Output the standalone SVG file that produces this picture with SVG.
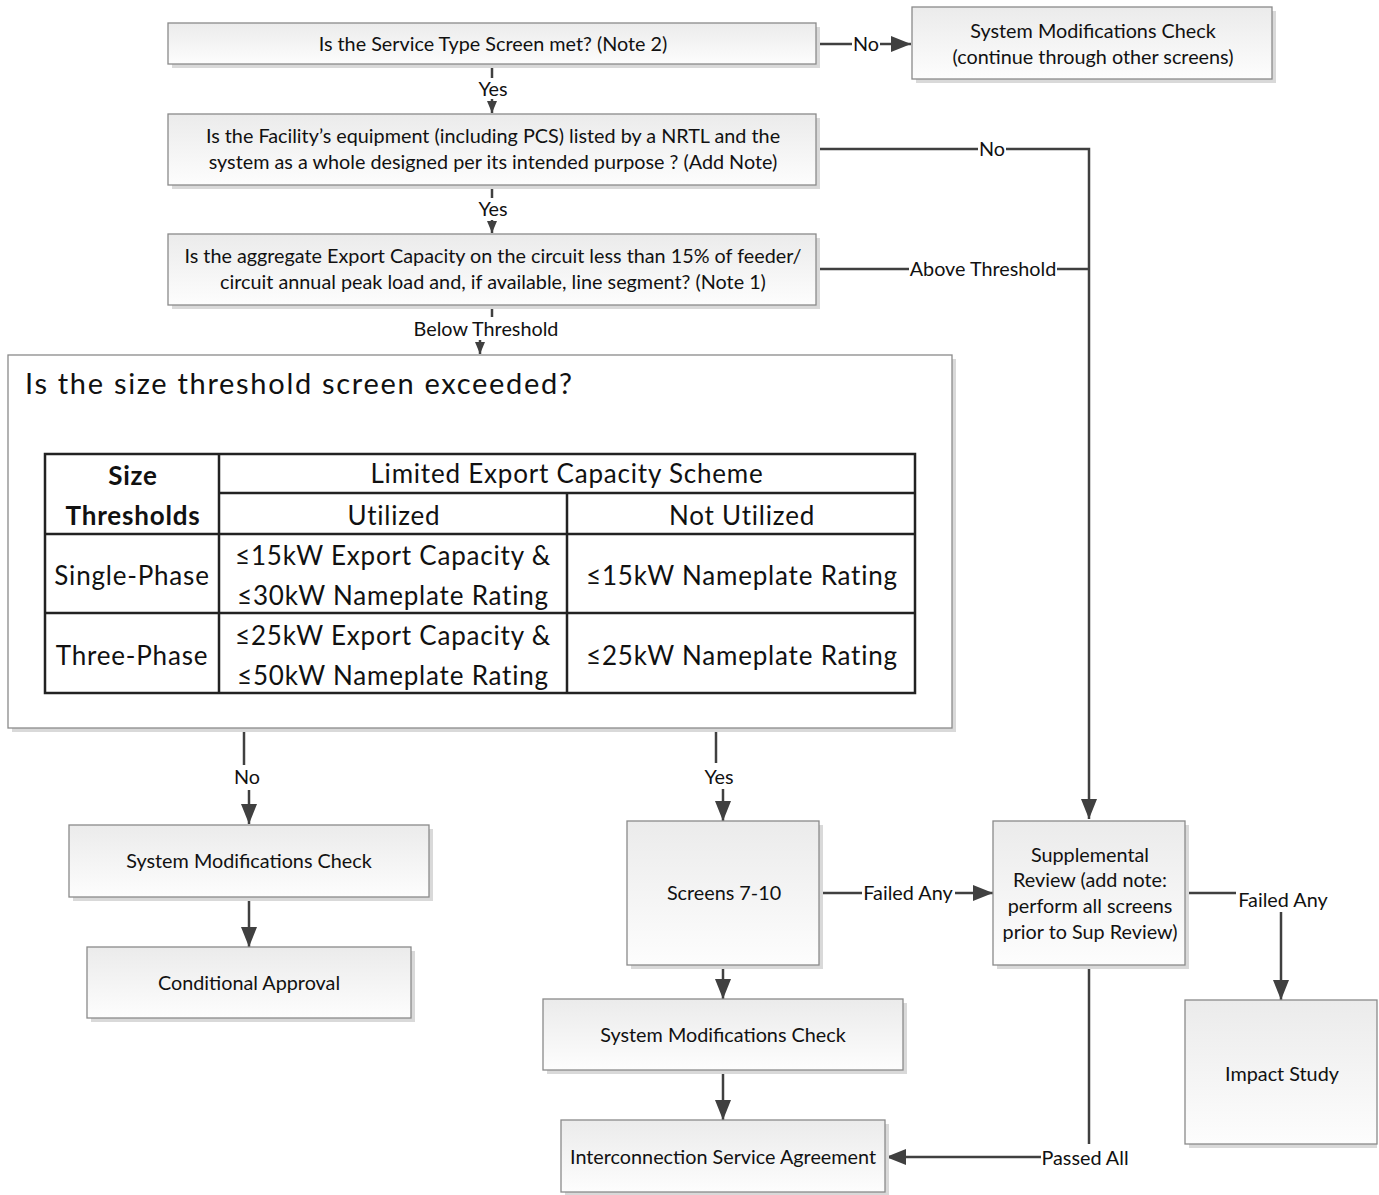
<svg xmlns="http://www.w3.org/2000/svg" width="1379" height="1195" viewBox="0 0 1379 1195">
<defs>
<linearGradient id="g" x1="0" y1="0" x2="0" y2="1"><stop offset="0" stop-color="#ebebeb"/><stop offset="1" stop-color="#fdfdfd"/></linearGradient>
<marker id="ab" markerUnits="userSpaceOnUse" viewBox="0 0 20 16" refX="20" refY="8" markerWidth="20" markerHeight="16" orient="auto"><path d="M0,0 L20,8 L0,16 z" fill="#404040"/></marker>
<marker id="as" markerUnits="userSpaceOnUse" viewBox="0 0 12 10" refX="12" refY="5" markerWidth="12" markerHeight="10" orient="auto"><path d="M0,0 L12,5 L0,10 z" fill="#404040"/></marker>
</defs>
<style>
.box{fill:url(#g);stroke:#8a8a8a;stroke-width:1.3}
.sh{fill:#d9d9d9}
.t{font-family:Lato,'Liberation Sans',sans-serif;font-size:19.8px;fill:#111;text-anchor:middle}
.l{font-family:Lato,'Liberation Sans',sans-serif;font-size:19.8px;fill:#111;text-anchor:middle}
.c{fill:none;stroke:#404040;stroke-width:2.5}
.tb{fill:none;stroke:#222;stroke-width:2.5}
.tt{font-family:Lato,'Liberation Sans',sans-serif;font-size:26px;letter-spacing:0.8px;fill:#111;text-anchor:middle}
.bold{font-weight:bold}
</style>
<rect width="1379" height="1195" fill="#fff"/>

<g id="connectors">
<path class="c" d="M492,64 V78"/><path class="c" d="M492,99 V113" marker-end="url(#as)"/>
<text class="l" x="493" y="96">Yes</text>
<path class="c" d="M816,44 H852"/><path class="c" d="M880,44 H911" marker-end="url(#ab)"/>
<text class="l" x="866" y="51">No</text>
<path class="c" d="M816,149 H978"/><path class="c" d="M1006,149 H1089 V819" marker-end="url(#ab)"/>
<text class="l" x="992" y="156">No</text>
<path class="c" d="M816,269 H909"/><path class="c" d="M1057,269 H1089"/>
<text class="l" x="983" y="276">Above Threshold</text>
<path class="c" d="M492,185 V198"/><path class="c" d="M492,220 V233" marker-end="url(#as)"/>
<text class="l" x="493" y="216">Yes</text>
<path class="c" d="M492,305 V317"/><path class="c" d="M480,340 V354" marker-end="url(#as)"/>
<text class="l" x="486" y="336">Below Threshold</text>
<path class="c" d="M244,728 V765"/><path class="c" d="M249,790 V824" marker-end="url(#ab)"/>
<text class="l" x="247" y="784">No</text>
<path class="c" d="M716,728 V763"/><path class="c" d="M723,789 V821" marker-end="url(#ab)"/>
<text class="l" x="719" y="784">Yes</text>
<path class="c" d="M249,897 V947" marker-end="url(#ab)"/>
<path class="c" d="M819,893 H862"/><path class="c" d="M955,893 H993" marker-end="url(#ab)"/>
<text class="l" x="908" y="900">Failed Any</text>
<path class="c" d="M1185,893 H1236"/><path class="c" d="M1281,912 V1000" marker-end="url(#ab)"/>
<text class="l" x="1283" y="907">Failed Any</text>
<path class="c" d="M723,965 V999" marker-end="url(#ab)"/>
<path class="c" d="M723,1070 V1120" marker-end="url(#ab)"/>
<path class="c" d="M1089,965 V1144"/><path class="c" d="M1041,1157 H886" marker-end="url(#ab)"/>
<text class="l" x="1085" y="1165">Passed All</text>
</g>

<g id="n-service">
<rect class="sh" x="172" y="27" width="648" height="41"/>
<rect class="box" x="168" y="23" width="648" height="41"/>
<text class="t" x="493" y="51">Is the Service Type Screen met? (Note 2)</text>
</g>
<g id="n-sysmod-top">
<rect class="sh" x="916" y="11" width="360" height="72"/>
<rect class="box" x="912" y="7" width="360" height="72"/>
<text class="t" x="1093" y="38">System Modifications Check</text>
<text class="t" x="1093" y="64">(continue through other screens)</text>
</g>
<g id="n-nrtl">
<rect class="sh" x="172" y="118" width="648" height="71"/>
<rect class="box" x="168" y="114" width="648" height="71"/>
<text class="t" x="493" y="143">Is the Facility’s equipment  (including PCS) listed by a NRTL and the</text>
<text class="t" x="493" y="169">system as a whole designed per its intended purpose ?  (Add Note)</text>
</g>
<g id="n-aggregate">
<rect class="sh" x="172" y="238" width="648" height="71"/>
<rect class="box" x="168" y="234" width="648" height="71"/>
<text class="t" x="493" y="263">Is the aggregate Export Capacity  on the circuit less than 15% of feeder/</text>
<text class="t" x="493" y="289">circuit annual peak load and, if available, line segment? (Note 1)</text>
</g>
<g id="n-size">
<rect class="sh" x="12" y="359" width="944" height="373"/>
<rect x="8" y="355" width="944" height="373" fill="#fff" stroke="#8a8a8a" stroke-width="1.3"/>
<text x="25" y="394" font-family="Lato,'Liberation Sans',sans-serif" font-size="29" fill="#111" letter-spacing="1.7">Is the size threshold screen exceeded?</text>
<rect class="tb" x="45" y="454" width="870" height="239"/>
<path class="tb" d="M219,454 V693 M567,493 V693 M219,493 H915 M45,534 H915 M45,613 H915"/>
<text class="tt bold" x="133" y="485">Size</text>
<text class="tt bold" x="133" y="525">Thresholds</text>
<text class="tt" x="567" y="483">Limited Export Capacity Scheme</text>
<text class="tt" x="394" y="525">Utilized</text>
<text class="tt" x="742" y="525">Not Utilized</text>
<text class="tt" x="132" y="585">Single-Phase</text>
<text class="tt" x="393" y="565">≤15kW Export Capacity &amp;</text>
<text class="tt" x="393" y="605">≤30kW Nameplate Rating</text>
<text class="tt" x="742" y="585">≤15kW Nameplate Rating</text>
<text class="tt" x="132" y="665">Three-Phase</text>
<text class="tt" x="393" y="645">≤25kW Export Capacity &amp;</text>
<text class="tt" x="393" y="685">≤50kW Nameplate Rating</text>
<text class="tt" x="742" y="665">≤25kW Nameplate Rating</text>
</g>
<g id="n-sysmod-left">
<rect class="sh" x="73" y="829" width="360" height="72"/>
<rect class="box" x="69" y="825" width="360" height="72"/>
<text class="t" x="249" y="868">System Modifications Check</text>
</g>
<g id="n-conditional">
<rect class="sh" x="91" y="951" width="324" height="71"/>
<rect class="box" x="87" y="947" width="324" height="71"/>
<text class="t" x="249" y="990">Conditional Approval</text>
</g>
<g id="n-screens">
<rect class="sh" x="631" y="825" width="192" height="144"/>
<rect class="box" x="627" y="821" width="192" height="144"/>
<text class="t" x="724" y="900">Screens 7-10</text>
</g>
<g id="n-supplemental">
<rect class="sh" x="997" y="825" width="192" height="144"/>
<rect class="box" x="993" y="821" width="192" height="144"/>
<text class="t" x="1090" y="862">Supplemental</text>
<text class="t" x="1090" y="887">Review (add note:</text>
<text class="t" x="1090" y="913">perform all screens</text>
<text class="t" x="1090" y="939">prior to Sup Review)</text>
</g>
<g id="n-sysmod-mid">
<rect class="sh" x="547" y="1003" width="360" height="71"/>
<rect class="box" x="543" y="999" width="360" height="71"/>
<text class="t" x="723" y="1042">System Modifications Check</text>
</g>
<g id="n-impact">
<rect class="sh" x="1189" y="1004" width="188" height="144"/>
<rect class="box" x="1185" y="1000" width="192" height="144"/>
<text class="t" x="1282" y="1081">Impact Study</text>
</g>
<g id="n-isa">
<rect class="sh" x="565" y="1124" width="324" height="71"/>
<rect class="box" x="561" y="1120" width="324" height="72"/>
<text class="t" x="723" y="1164">Interconnection Service Agreement</text>
</g>
</svg>
